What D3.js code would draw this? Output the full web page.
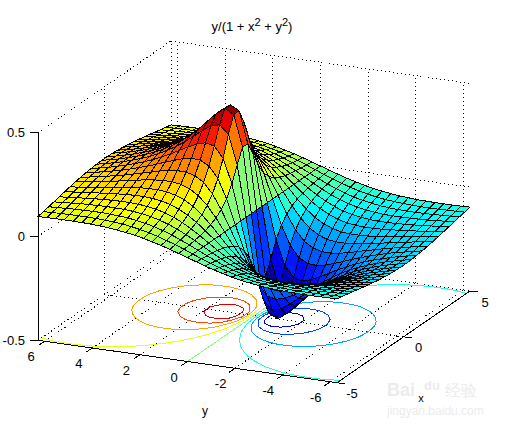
<!DOCTYPE html>
<html><head><meta charset="utf-8">
<script src="https://cdn.jsdelivr.net/npm/d3@7"></script>
<style>html,body{margin:0;padding:0;background:#fff}svg{display:block}text{font-family:"Liberation Sans",Arial,sans-serif;fill:#000}</style>
</head><body><svg id="c" width="505" height="424"></svg>
<script>
const titleText=["y/(1 + x","2"," + y","2",")"];
const zTicks=[-0.5,0,0.5];
const yTicks=[6,4,2,0,-2,-4,-6];
const xTicks=[-5,0,5];
const contourLevels=[-0.4,-0.3,-0.2,-0.1,0,0.1,0.2,0.3,0.4];
const xGrid=[-5,-4.6,-4.2,-3.8,-3.4,-3,-2.6,-2.2,-1.8,-1.4,-1,-.6,-.2,.2,.6,1,1.4,1.8,2.2,2.6,3,3.4,3.8,4.2,4.6,5];
const yGrid=[-6.283,-5.914,-5.544,-5.174,-4.805,-4.435,-4.066,-3.696,-3.326,-2.957,-2.587,-2.218,-1.848,-1.478,-1.109,-.739,-.37,0,.37,.739,1.109,1.478,1.848,2.218,2.587,2.957,3.326,3.696,4.066,4.435,4.805,5.174,5.544,5.914,6.283];
const zRows=[
[-.096,-.097,-.098,-.098,-.098,-.097,-.096,-.093,-.090,-.085,-.079,-.072,-.063,-.052,-.041,-.028,-.014,0,.014,.028,.041,.052,.063,.072,.079,.085,.090,.093,.096,.097,.098,.098,.098,.097,.096],
[-.102,-.104,-.105,-.106,-.106,-.106,-.105,-.103,-.100,-.096,-.090,-.082,-.072,-.061,-.047,-.033,-.017,0,.017,.033,.047,.061,.072,.082,.090,.096,.100,.103,.105,.106,.106,.106,.105,.104,.102],
[-.108,-.110,-.112,-.114,-.115,-.116,-.116,-.114,-.112,-.108,-.102,-.094,-.084,-.071,-.056,-.039,-.020,0,.020,.039,.056,.071,.084,.094,.102,.108,.112,.114,.116,.116,.115,.114,.112,.110,.108],
[-.114,-.117,-.120,-.123,-.125,-.126,-.127,-.127,-.126,-.122,-.117,-.109,-.098,-.084,-.067,-.046,-.024,0,.024,.046,.067,.084,.098,.109,.117,.122,.126,.127,.127,.126,.125,.123,.120,.117,.114],
[-.121,-.124,-.128,-.132,-.135,-.138,-.140,-.141,-.141,-.139,-.134,-.127,-.116,-.100,-.080,-.056,-.029,0,.029,.056,.080,.100,.116,.127,.134,.139,.141,.141,.140,.138,.135,.132,.128,.124,.121],
[-.127,-.132,-.136,-.141,-.145,-.149,-.153,-.156,-.158,-.158,-.155,-.149,-.138,-.121,-.099,-.070,-.036,0,.036,.070,.099,.121,.138,.149,.155,.158,.158,.156,.153,.149,.145,.141,.136,.132,.127],
[-.133,-.138,-.144,-.150,-.156,-.162,-.167,-.173,-.177,-.179,-.179,-.175,-.165,-.149,-.123,-.089,-.047,0,.047,.089,.123,.149,.165,.175,.179,.179,.177,.173,.167,.162,.156,.150,.144,.138,.133],
[-.139,-.145,-.152,-.159,-.166,-.174,-.182,-.190,-.197,-.203,-.206,-.206,-.200,-.184,-.157,-.116,-.062,0,.062,.116,.157,.184,.200,.206,.206,.203,.197,.190,.182,.174,.166,.159,.152,.145,.139],
[-.144,-.151,-.159,-.167,-.176,-.185,-.196,-.206,-.217,-.228,-.237,-.242,-.241,-.230,-.203,-.154,-.084,0,.084,.154,.203,.230,.241,.242,.237,.228,.217,.206,.196,.185,.176,.167,.159,.151,.144],
[-.148,-.156,-.165,-.174,-.184,-.196,-.209,-.222,-.237,-.253,-.268,-.282,-.290,-.287,-.265,-.211,-.119,0,.119,.211,.265,.287,.290,.282,.268,.253,.237,.222,.209,.196,.184,.174,.165,.156,.148],
[-.151,-.160,-.169,-.180,-.192,-.205,-.219,-.236,-.255,-.275,-.298,-.321,-.341,-.353,-.343,-.290,-.173,0,.173,.290,.343,.353,.341,.321,.298,.275,.255,.236,.219,.205,.192,.180,.169,.160,.151],
[-.154,-.163,-.173,-.184,-.197,-.211,-.227,-.246,-.268,-.293,-.321,-.353,-.387,-.417,-.428,-.388,-.247,0,.247,.388,.428,.417,.387,.353,.321,.293,.268,.246,.227,.211,.197,.184,.173,.163,.154],
[-.155,-.164,-.174,-.186,-.199,-.214,-.231,-.251,-.275,-.302,-.335,-.372,-.415,-.458,-.489,-.466,-.314,0,.314,.466,.489,.458,.415,.372,.335,.302,.275,.251,.231,.214,.199,.186,.174,.164,.155],
[-.155,-.164,-.174,-.186,-.199,-.214,-.231,-.251,-.275,-.302,-.335,-.372,-.415,-.458,-.489,-.466,-.314,0,.314,.466,.489,.458,.415,.372,.335,.302,.275,.251,.231,.214,.199,.186,.174,.164,.155],
[-.154,-.163,-.173,-.184,-.197,-.211,-.227,-.246,-.268,-.293,-.321,-.353,-.387,-.417,-.428,-.388,-.247,0,.247,.388,.428,.417,.387,.353,.321,.293,.268,.246,.227,.211,.197,.184,.173,.163,.154],
[-.151,-.160,-.169,-.180,-.192,-.205,-.219,-.236,-.255,-.275,-.298,-.321,-.341,-.353,-.343,-.290,-.173,0,.173,.290,.343,.353,.341,.321,.298,.275,.255,.236,.219,.205,.192,.180,.169,.160,.151],
[-.148,-.156,-.165,-.174,-.184,-.196,-.209,-.222,-.237,-.253,-.268,-.282,-.290,-.287,-.265,-.211,-.119,0,.119,.211,.265,.287,.290,.282,.268,.253,.237,.222,.209,.196,.184,.174,.165,.156,.148],
[-.144,-.151,-.159,-.167,-.176,-.185,-.196,-.206,-.217,-.228,-.237,-.242,-.241,-.230,-.203,-.154,-.084,0,.084,.154,.203,.230,.241,.242,.237,.228,.217,.206,.196,.185,.176,.167,.159,.151,.144],
[-.139,-.145,-.152,-.159,-.166,-.174,-.182,-.190,-.197,-.203,-.206,-.206,-.200,-.184,-.157,-.116,-.062,0,.062,.116,.157,.184,.200,.206,.206,.203,.197,.190,.182,.174,.166,.159,.152,.145,.139],
[-.133,-.138,-.144,-.150,-.156,-.162,-.167,-.173,-.177,-.179,-.179,-.175,-.165,-.149,-.123,-.089,-.047,0,.047,.089,.123,.149,.165,.175,.179,.179,.177,.173,.167,.162,.156,.150,.144,.138,.133],
[-.127,-.132,-.136,-.141,-.145,-.149,-.153,-.156,-.158,-.158,-.155,-.149,-.138,-.121,-.099,-.070,-.036,0,.036,.070,.099,.121,.138,.149,.155,.158,.158,.156,.153,.149,.145,.141,.136,.132,.127],
[-.121,-.124,-.128,-.132,-.135,-.138,-.140,-.141,-.141,-.139,-.134,-.127,-.116,-.100,-.080,-.056,-.029,0,.029,.056,.080,.100,.116,.127,.134,.139,.141,.141,.140,.138,.135,.132,.128,.124,.121],
[-.114,-.117,-.120,-.123,-.125,-.126,-.127,-.127,-.126,-.122,-.117,-.109,-.098,-.084,-.067,-.046,-.024,0,.024,.046,.067,.084,.098,.109,.117,.122,.126,.127,.127,.126,.125,.123,.120,.117,.114],
[-.108,-.110,-.112,-.114,-.115,-.116,-.116,-.114,-.112,-.108,-.102,-.094,-.084,-.071,-.056,-.039,-.020,0,.020,.039,.056,.071,.084,.094,.102,.108,.112,.114,.116,.116,.115,.114,.112,.110,.108],
[-.102,-.104,-.105,-.106,-.106,-.106,-.105,-.103,-.100,-.096,-.090,-.082,-.072,-.061,-.047,-.033,-.017,0,.017,.033,.047,.061,.072,.082,.090,.096,.100,.103,.105,.106,.106,.106,.105,.104,.102],
[-.096,-.097,-.098,-.098,-.098,-.097,-.096,-.093,-.090,-.085,-.079,-.072,-.063,-.052,-.041,-.028,-.014,0,.014,.028,.041,.052,.063,.072,.079,.085,.090,.093,.096,.097,.098,.098,.098,.097,.096]
];

const svg=d3.select("#c");
const yMax=6.2832,xMax=5;
const sxY=d3.scaleLinear().domain([yMax,-yMax]).range([0,299]);
const syY=d3.scaleLinear().domain([yMax,-yMax]).range([0,42.4]);
const sxX=d3.scaleLinear().domain([-xMax,xMax]).range([0,133]);
const syX=d3.scaleLinear().domain([-xMax,xMax]).range([0,-91.7]);
const syZ=d3.scaleLinear().domain([-.5,.5]).range([0,-207.6]);
const P=(x,y,z)=>[38+sxY(y)+sxX(x),340.3+syY(y)+syX(x)+syZ(z)];
const clamp=v=>Math.max(0,Math.min(1,v));
const jet=t=>`rgb(${Math.round(255*clamp(1.5-Math.abs(4*t-3)))},${Math.round(255*clamp(1.5-Math.abs(4*t-2)))},${Math.round(255*clamp(1.5-Math.abs(4*t-1)))})`;
const color=d3.scaleQuantize().domain([-.489,.489]).range(d3.range(64).map(i=>jet((i+.5)/64)));
const seg=(a,b)=>"M"+a.join(",")+"L"+b.join(",");

// dotted box grid
const grid=[];
for(const z of zTicks){grid.push(seg(P(-5,yMax,z),P(5,yMax,z)));grid.push(seg(P(5,yMax,z),P(5,-yMax,z)));}
for(const x of xTicks){grid.push(seg(P(x,yMax,-.5),P(x,-yMax,-.5)));grid.push(seg(P(x,yMax,-.5),P(x,yMax,.5)));}
for(const y of yTicks){grid.push(seg(P(-5,y,-.5),P(5,y,-.5)));grid.push(seg(P(5,y,-.5),P(5,y,.5)));}
svg.append("g").selectAll("path").data(grid).join("path").attr("d",d=>d)
 .attr("fill","none").attr("stroke","#000").attr("stroke-width",1).attr("stroke-dasharray","1 3").attr("shape-rendering","crispEdges");

// floor contours
const n=xGrid.length,m=yGrid.length;
const flat=[];for(let r=0;r<n;r++)for(let c=0;c<m;c++)flat.push(zRows[r][c]);
const cy=d3.scaleLinear().domain([.5,m-.5]).range([yGrid[0],yGrid[m-1]]);
const cx=d3.scaleLinear().domain([.5,n-.5]).range([xGrid[0],xGrid[n-1]]);
const inside=p=>p[0]>=.5&&p[0]<=m-.5&&p[1]>=.5&&p[1]<=n-.5;
const line=d3.line().defined(inside).x(p=>P(cx(p[1]),cy(p[0]),-.5)[0]).y(p=>P(cx(p[1]),cy(p[0]),-.5)[1]);
const gc=svg.append("g");
for(const lv of contourLevels){
 const c=d3.contours().size([m,n]).thresholds([lv])(flat)[0];
 c.coordinates.forEach(poly=>poly.forEach(ring=>{
  gc.append("path").attr("d",line(ring)).attr("fill","none").attr("stroke",color(lv)).attr("stroke-width",1).attr("shape-rendering","crispEdges");
 }));
}

// surface, painted back to front
const cells=[];
for(let r=n-2;r>=0;r--)for(let c=m-2;c>=0;c--)cells.push({r,c});
svg.append("g").selectAll("path").data(cells).join("path")
 .attr("d",d=>{const pts=[[d.r,d.c],[d.r+1,d.c],[d.r+1,d.c+1],[d.r,d.c+1]].map(([a,b])=>P(xGrid[a],yGrid[b],zRows[a][b]));return "M"+pts.join("L")+"Z";})
 .attr("fill",d=>color(zRows[d.r][d.c])).attr("stroke","#000").attr("stroke-width",1).attr("stroke-linejoin","round").attr("shape-rendering","crispEdges");

// axes
const ax=[seg(P(-5,yMax,-.5),P(-5,yMax,.5)),seg(P(-5,yMax,-.5),P(-5,-yMax,-.5)),seg(P(-5,-yMax,-.5),P(5,-yMax,-.5))];
for(const z of zTicks){const p=P(-5,yMax,z);ax.push(seg(p,[p[0]-8,p[1]]));}
for(const y of yTicks){const p=P(-5,y,-.5);ax.push(seg(p,[p[0]-6,p[1]+4]));}
for(const x of xTicks){const p=P(x,-yMax,-.5);ax.push(seg(p,[p[0]+8,p[1]+1]));}
svg.append("g").selectAll("path").data(ax).join("path").attr("d",d=>d).attr("fill","none").attr("stroke","#000").attr("stroke-width",1).attr("shape-rendering","crispEdges");

// labels
const lab=(s,x,y,a,fs)=>svg.append("text").attr("x",x).attr("y",y).attr("text-anchor",a).attr("dominant-baseline","central").attr("font-size",fs).text(s);
for(const z of zTicks){const p=P(-5,yMax,z);lab(String(z),25,p[1],"end",13);}
for(const y of yTicks){const p=P(-5,y,-.5);lab(String(y),p[0]-13.5-(y<0?1:0),p[1]+15.5,"middle",13);}
for(const x of xTicks){const p=P(x,-yMax,-.5);lab(String(x),p[0]+15,p[1]+11,"middle",13);}
lab("y",205,411,"middle",12);
lab("x",421,398,"middle",11);
const t=svg.append("text").attr("x",252).attr("y",31).attr("text-anchor","middle").attr("font-size",13);
titleText.forEach((s,i)=>{t.append("tspan").text(s).attr("font-size",i%2?11:13).attr("dy",i===0?0:(i%2?-5:5));});

// faint site mark
const wm=svg.append("g").attr("opacity",.5);
const w=(s,x,y,fs,fw)=>wm.append("text").attr("x",x).attr("y",y).attr("font-size",fs).attr("font-weight",fw).style("fill","#d9d9d9").text(s);
w("Bai",387,396,18,"bold");w("du",424,390,13,"bold");w("经验",445,396,16,"normal");w("jingyan.baidu.com",387,415,12,"normal");
</script></body></html>
